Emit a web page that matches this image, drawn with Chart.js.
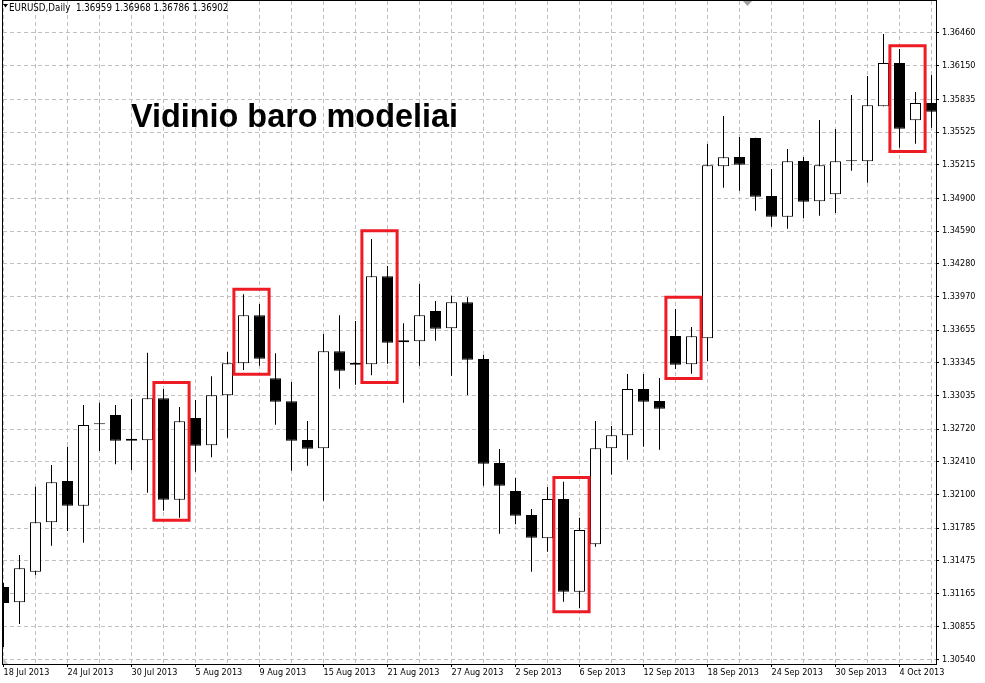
<!DOCTYPE html>
<html>
<head>
<meta charset="utf-8">
<script src="https://cdn.jsdelivr.net/npm/chart.js@4.4.0/dist/chart.umd.min.js"></script>
<style>
  html, body { margin: 0; padding: 0; background: #fff; }
  canvas { display: block; }
</style>
</head>
<body>
<canvas id="chart" width="985" height="683"></canvas>
<script>
const dates = [
  '18 Jul 2013','19 Jul 2013','22 Jul 2013','23 Jul 2013','24 Jul 2013','25 Jul 2013','26 Jul 2013','29 Jul 2013','30 Jul 2013','31 Jul 2013',
  '1 Aug 2013','2 Aug 2013','5 Aug 2013','6 Aug 2013','7 Aug 2013','8 Aug 2013','9 Aug 2013','12 Aug 2013','13 Aug 2013','14 Aug 2013',
  '15 Aug 2013','16 Aug 2013','19 Aug 2013','20 Aug 2013','21 Aug 2013','22 Aug 2013','23 Aug 2013','26 Aug 2013','27 Aug 2013','28 Aug 2013',
  '29 Aug 2013','30 Aug 2013','2 Sep 2013','3 Sep 2013','4 Sep 2013','5 Sep 2013','6 Sep 2013','9 Sep 2013','10 Sep 2013','11 Sep 2013',
  '12 Sep 2013','13 Sep 2013','16 Sep 2013','17 Sep 2013','18 Sep 2013','19 Sep 2013','20 Sep 2013','23 Sep 2013','24 Sep 2013','25 Sep 2013',
  '26 Sep 2013','27 Sep 2013','30 Sep 2013','1 Oct 2013','2 Oct 2013','3 Oct 2013','4 Oct 2013','7 Oct 2013','8 Oct 2013'
];

const open = [
  1.31229, 1.31085, 1.31374, 1.31840, 1.32230, 1.31997, 1.32765, 1.32853, 1.32630, 1.32614,
  1.33011, 1.32054, 1.32825, 1.32567, 1.33039, 1.33341, 1.33795, 1.33200, 1.32983, 1.32617,
  1.32539, 1.33455, 1.33347, 1.33332, 1.34163, 1.33540, 1.33549, 1.33835, 1.33672, 1.33917,
  1.33382, 1.32400, 1.32136, 1.31909, 1.31689, 1.32060, 1.31185, 1.31632, 1.32539, 1.32662,
  1.33099, 1.32985, 1.33599, 1.33332, 1.33577, 1.35201, 1.35289, 1.35469, 1.34921, 1.34726,
  1.35252, 1.34871, 1.34937, 1.35249, 1.35249, 1.35768, 1.36177, 1.35636, 1.35799
];
const high = [
  1.31267, 1.31531, 1.32176, 1.32381, 1.32554, 1.32948, 1.32969, 1.32948, 1.33004, 1.33442,
  1.33099, 1.32929, 1.32995, 1.33219, 1.33448, 1.33993, 1.33901, 1.33436, 1.33165, 1.32797,
  1.33618, 1.33795, 1.33741, 1.34515, 1.34260, 1.33719, 1.34090, 1.33930, 1.33980, 1.33965,
  1.33420, 1.32532, 1.32258, 1.31966, 1.32173, 1.32224, 1.31884, 1.32797, 1.32749, 1.33240,
  1.33240, 1.33203, 1.33854, 1.33684, 1.35412, 1.35676, 1.35478, 1.35470, 1.35176, 1.35365,
  1.35289, 1.35639, 1.35554, 1.35875, 1.36054, 1.36451, 1.36309, 1.35903, 1.36064
];
const low = [
  1.30663, 1.30880, 1.31343, 1.31619, 1.31758, 1.31648, 1.32513, 1.32388, 1.32334, 1.32120,
  1.31950, 1.31884, 1.32318, 1.32454, 1.32639, 1.33278, 1.33319, 1.32762, 1.32327, 1.32375,
  1.32044, 1.33102, 1.33139, 1.33228, 1.33338, 1.32969, 1.33319, 1.33555, 1.33224, 1.33042,
  1.32186, 1.31733, 1.31821, 1.31374, 1.31563, 1.31091, 1.31028, 1.31610, 1.32290, 1.32431,
  1.32554, 1.32526, 1.33288, 1.33243, 1.33363, 1.34999, 1.34971, 1.34782, 1.34631, 1.34612,
  1.34713, 1.34735, 1.34761, 1.35160, 1.35047, 1.35768, 1.35377, 1.35415, 1.35566
];
const close = [
  1.31078, 1.31406, 1.31840, 1.32218, 1.31997, 1.32759, 1.32766, 1.32611, 1.32611, 1.33011,
  1.32054, 1.32794, 1.32563, 1.33039, 1.33341, 1.33795, 1.33385, 1.32979, 1.32611, 1.32535,
  1.33455, 1.33272, 1.33328, 1.34163, 1.33536, 1.33559, 1.33795, 1.33668, 1.33917, 1.33375,
  1.32393, 1.32186, 1.31903, 1.31695, 1.32060, 1.31185, 1.31767, 1.32539, 1.32662, 1.33099,
  1.32979, 1.32913, 1.33328, 1.33596, 1.35211, 1.35286, 1.35217, 1.34914, 1.34726, 1.35249,
  1.34867, 1.35211, 1.35249, 1.35250, 1.35777, 1.36177, 1.35556, 1.35799, 1.35717
];

const priceTicks = [
  '1.30540','1.30855','1.31165','1.31475','1.31785','1.32100','1.32410','1.32720','1.33035','1.33345',
  '1.33655','1.33970','1.34280','1.34590','1.34900','1.35215','1.35525','1.35835','1.36150','1.36460'
];

// inside bar patterns: first and last candle, price top and bottom of the frame
const boxFirst = [10, 15, 23, 35, 42, 56];
const boxLast = [11, 16, 24, 36, 43, 57];
const boxTop = [1.33160, 1.34041, 1.34592, 1.32263, 1.33966, 1.36339];
const boxBottom = [1.31860, 1.33239, 1.33160, 1.30995, 1.33198, 1.35341];

const header = 'EURUSD,Daily  1.36959 1.36968 1.36786 1.36902';
const title = 'Vidinio baro modeliai';

const axisFont = { family: "'DejaVu Sans Condensed', 'Liberation Sans', sans-serif", size: 9 };

const boxSets = boxFirst.map((first, i) => {
  const l = first - 0.6;
  const r = boxLast[i] + 0.6;
  const m = (l + r) / 2;
  return {
    type: 'line',
    data: [
      { x: m, y: boxTop[i] }, { x: r, y: boxTop[i] }, { x: r, y: boxBottom[i] },
      { x: l, y: boxBottom[i] }, { x: l, y: boxTop[i] }, { x: m, y: boxTop[i] }
    ],
    borderColor: '#ed1c24',
    borderWidth: 3,
    borderJoinStyle: 'miter',
    pointRadius: 0,
    tension: 0,
    fill: false,
    order: -1
  };
});

const decorations = {
  id: 'decorations',
  afterDraw(chart) {
    const { ctx, chartArea: a } = chart;
    ctx.save();
    ctx.strokeStyle = '#000';
    ctx.lineWidth = 1;
    ctx.strokeRect(a.left - 0.5, a.top - 0.5, a.right - a.left + 1, a.bottom - a.top + 1);

    ctx.fillStyle = '#000';
    ctx.beginPath();
    ctx.moveTo(3, 4); ctx.lineTo(8, 4); ctx.lineTo(5.5, 7.5); ctx.closePath();
    ctx.fill();
    ctx.font = "9.7px 'DejaVu Sans Condensed', 'Liberation Sans', sans-serif";
    ctx.textBaseline = 'middle';
    ctx.fillText(header, 9, 8);

    ctx.fillStyle = '#a0a0a0';
    ctx.beginPath();
    ctx.moveTo(743, 1); ctx.lineTo(752, 1); ctx.lineTo(747.5, 6); ctx.closePath();
    ctx.fill();
    ctx.fillStyle = '#c8c8c8';
    ctx.beginPath();
    ctx.moveTo(3, 657); ctx.lineTo(3, 664); ctx.lineTo(8, 664); ctx.closePath();
    ctx.fill();

    ctx.fillStyle = '#000';
    ctx.font = "bold 32.4px 'Liberation Sans', Arial, sans-serif";
    ctx.textBaseline = 'alphabetic';
    ctx.fillText(title, 131, 127);
    ctx.restore();
  }
};

const config = {
  type: 'bar',
  data: {
    datasets: [
      {
        data: dates.map((d, i) => ({ x: i, y: [open[i], close[i]] })),
        backgroundColor: close.map((c, i) => c >= open[i] ? '#fff' : '#000'),
        borderColor: '#000',
        borderWidth: 1,
        borderSkipped: false,
        barThickness: 11,
        minBarLength: 1,
        inflateAmount: 0,
        grouped: false,
        clip: 0,
        order: 0
      },
      {
        data: dates.map((d, i) => ({ x: i, y: [low[i], high[i]] })),
        backgroundColor: '#000',
        borderWidth: 0,
        barThickness: 1,
        inflateAmount: 0,
        grouped: false,
        clip: 0,
        order: 1
      },
      ...boxSets
    ]
  },
  options: {
    responsive: false,
    animation: false,
    devicePixelRatio: 1,
    layout: { padding: { left: 3, top: 1, right: 0, bottom: 0 } },
    plugins: { legend: { display: false }, tooltip: { enabled: false } },
    scales: {
      x: {
        type: 'linear',
        position: 'bottom',
        offset: false,
        min: -1 / 32,
        max: 58.28125,
        afterBuildTicks: scale => {
          scale.ticks = dates.map((d, i) => i).filter(i => i % 2 === 0).map(v => ({ value: v }));
        },
        afterFit: scale => {
          scale.height = 19;
          scale.paddingLeft = 0;
          scale.paddingRight = 0;
        },
        ticks: {
          autoSkip: false,
          maxRotation: 0,
          align: 'start',
          padding: 0,
          color: '#000',
          font: axisFont,
          callback: v => v % 4 === 0 ? dates[v] : ''
        },
        grid: {
          offset: false,
          color: '#c0c0c0',
          tickLength: 3,
          tickColor: ctx => ctx.tick && ctx.tick.value % 4 === 0 ? '#000' : 'rgba(0,0,0,0)'
        },
        border: { display: true, color: '#000', dash: [4, 3] }
      },
      y: {
        type: 'linear',
        position: 'right',
        beginAtZero: false,
        min: 1.305022,
        max: 1.367621,
        afterBuildTicks: scale => {
          scale.ticks = priceTicks.map(t => ({ value: parseFloat(t) }));
        },
        afterFit: scale => {
          scale.width = 49;
          scale.paddingTop = 0;
          scale.paddingBottom = 0;
        },
        ticks: {
          padding: 3,
          color: '#000',
          font: axisFont,
          callback: (v, i) => priceTicks[i]
        },
        grid: { color: '#c0c0c0', tickLength: 3, tickColor: '#000' },
        border: { display: true, color: '#000', dash: [4, 3] }
      }
    }
  },
  plugins: [decorations]
};

const chart = new Chart(document.getElementById('chart'), config);
</script>
</body>
</html>
